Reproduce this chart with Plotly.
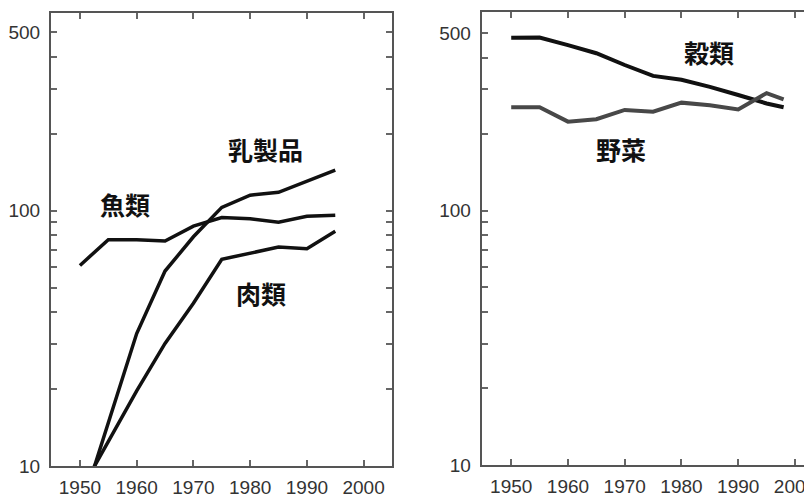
import math
import plotly.graph_objects as go

# ---- data ----
years_left = [1950, 1955, 1960, 1965, 1970, 1975, 1980, 1985, 1990, 1995]
fish = [61, 77, 77, 76, 87, 94, 93, 90, 95, 96]            # 魚類
dairy = [6.6, 14.7, 33, 58, 79, 103, 115, 118, 130, 144]   # 乳製品
meat = [7.9, 12.4, 19.7, 30.2, 43.4, 64.5, 68, 72, 71, 83]  # 肉類

years_right = [1950, 1955, 1960, 1965, 1970, 1975, 1980, 1985, 1990, 1995, 1998]
cereals = [479, 480, 448, 416, 374, 339, 327, 307, 285, 264, 255]     # 穀類
vegetables = [255, 255, 224, 229, 249, 245, 266, 260, 250, 290, 274]  # 野菜

x_ticks = [1950, 1960, 1970, 1980, 1990, 2000]
y_ticks = [10, 20, 30, 40, 50, 60, 70, 80, 90, 100, 200, 300, 400, 500]
y_labels = ["10", "", "", "", "", "", "", "", "", "100", "", "", "", "500"]

labels_left = [("乳製品", 1982.7, 174), ("魚類", 1957.9, 106), ("肉類", 1981.9, 47.6)]
labels_right = [("穀類", 1984.8, 421), ("野菜", 1969.3, 175)]

# page body has an 8px margin; figure is sized to fill the rest of the window
OFF = 8
W, H = 812 - OFF, 494 - OFF
fig = go.Figure()

fig.add_trace(go.Scatter(x=years_left, y=fish, mode="lines", line=dict(color="#111", width=3.5),
                         xaxis="x", yaxis="y", showlegend=False))
fig.add_trace(go.Scatter(x=years_left, y=dairy, mode="lines", line=dict(color="#111", width=3.5),
                         xaxis="x", yaxis="y", showlegend=False))
fig.add_trace(go.Scatter(x=years_left, y=meat, mode="lines", line=dict(color="#111", width=3.5),
                         xaxis="x", yaxis="y", showlegend=False))
fig.add_trace(go.Scatter(x=years_right, y=cereals, mode="lines", line=dict(color="#111", width=4),
                         xaxis="x2", yaxis="y2", showlegend=False))
fig.add_trace(go.Scatter(x=years_right, y=vegetables, mode="lines", line=dict(color="#484848", width=4),
                         xaxis="x2", yaxis="y2", showlegend=False))

tickfont = dict(family="Liberation Sans Narrow, Arial Narrow, Arial, sans-serif", size=19, color="#333")
axis_common = dict(showgrid=False, zeroline=False, showline=True, linecolor="#555", linewidth=2,
                   ticks="inside", ticklen=6, tickwidth=1.5, tickcolor="#666", tickfont=tickfont,
                   automargin=False, ticklabeloverflow="allow")


def xd(a, b):
    return [(a - OFF) / W, min(1.0, (b - OFF) / W)]


def yd(top, bottom):
    return [(H - (bottom - OFF)) / H, (H - (top - OFF)) / H]


fig.update_layout(
    width=W, height=H,
    margin=dict(l=0, r=0, t=0, b=0),
    paper_bgcolor="white", plot_bgcolor="white",
    xaxis=dict(domain=xd(51, 392), range=[1944.9, 2005], tickvals=x_ticks,
               mirror="ticks", anchor="y", ticklabelstandoff=3, **axis_common),
    yaxis=dict(domain=yd(13, 466), type="log", range=[1, 2.774],
               tickvals=y_ticks, ticktext=y_labels, mirror="ticks", anchor="x",
               ticklabelstandoff=5, **axis_common),
    xaxis2=dict(domain=xd(481.7, 812), range=[1944.8, 2003], tickvals=x_ticks,
                mirror="ticks", anchor="y2", ticklabelstandoff=3, **axis_common),
    yaxis2=dict(domain=yd(11.7, 465), type="log", range=[1, 2.7825],
                tickvals=y_ticks, ticktext=y_labels, mirror=False, anchor="x2",
                ticklabelstandoff=5, **axis_common),
)

lab_font = dict(family="Noto Sans CJK JP", size=25, color="#111")
for text, xv, yv in labels_left:
    fig.add_annotation(x=xv, y=math.log10(yv), xref="x", yref="y", text="<b>%s</b>" % text,
                       showarrow=False, font=lab_font)
for text, xv, yv in labels_right:
    fig.add_annotation(x=xv, y=math.log10(yv), xref="x2", yref="y2", text="<b>%s</b>" % text,
                       showarrow=False, font=lab_font)

fig.write_html("out.html")
